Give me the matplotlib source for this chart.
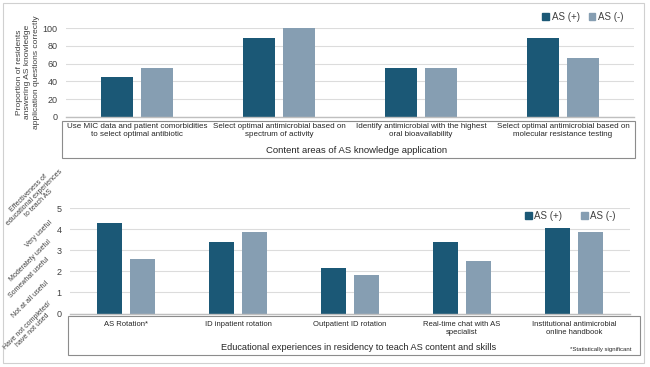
import matplotlib
matplotlib.use("Agg")
import matplotlib.pyplot as plt
from matplotlib.patches import Rectangle, Patch
from matplotlib.transforms import blended_transform_factory

plt.rcParams['font.family'] = ['Liberation Sans', 'DejaVu Sans']

# ---- data ----
top_categories = ["Use MIC data and patient comorbidities\nto select optimal antibiotic",
                  "Select optimal antimicrobial based on\nspectrum of activity",
                  "Identify antimicrobial with the highest\noral bioavailability",
                  "Select optimal antimicrobial based on\nmolecular resistance testing"]
top_as_pos = [44.4, 88.9, 55.6, 88.9]
top_as_neg = [55.6, 100.0, 55.6, 66.7]
top_yticks = [0, 20, 40, 60, 80, 100]

bot_categories = ["AS Rotation*", "ID inpatient rotation", "Outpatient ID rotation",
                  "Real-time chat with AS\nspecialist",
                  "Institutional antimicrobial\nonline handbook"]
bot_as_pos = [4.27, 3.39, 2.17, 3.39, 4.05]
bot_as_neg = [2.60, 3.85, 1.82, 2.50, 3.85]
bot_yticks = [0, 1, 2, 3, 4, 5]
scale_labels = ["Have not completed/\nhave not used", "Not at all useful",
                "Somewhat useful", "Moderately useful", "Very useful"]

series_names = ["AS (+)", "AS (-)"]
DARK = '#1b5876'
LIGHT = '#869eb2'
GRID = '#dcdcdc'
TXT = '#404040'

W, H = 650, 367
fig = plt.figure(figsize=(6.5, 3.67), dpi=100)

def fx(px):
    return px / W

def fy(py):
    return 1 - py / H

# figure border
fig.patches.append(Rectangle((fx(3), fy(363)), fx(644) - fx(3), fy(3) - fy(363),
                             transform=fig.transFigure, fill=False,
                             edgecolor='#d0d0d0', lw=0.8))

def style_axes(ax, ymax, yticks):
    ax.set_ylim(0, ymax)
    ax.set_yticks(yticks)
    ax.yaxis.grid(True, color=GRID, lw=0.8)
    ax.set_axisbelow(True)
    for s in ['left', 'right', 'top']:
        ax.spines[s].set_visible(False)
    ax.spines['bottom'].set_color('#bfbfbf')
    ax.spines['bottom'].set_linewidth(1.0)
    ax.tick_params(axis='y', length=0, labelsize=6.5, labelcolor=TXT, pad=6)
    ax.tick_params(axis='x', length=0, labelbottom=False)

# ---- top panel ----
ax1 = fig.add_axes([fx(66), fy(117), fx(634) - fx(66), fy(28) - fy(117)])
x1 = list(range(len(top_categories)))
ax1.bar([i - 0.14 for i in x1], top_as_pos, width=0.225, color=DARK)
ax1.bar([i + 0.14 for i in x1], top_as_neg, width=0.225, color=LIGHT)
ax1.set_xlim(-0.5, len(top_categories) - 0.5)
style_axes(ax1, 100, top_yticks)
fig.text(fx(28), fy(72), "Proportion of residents\nanswering AS knowledge\napplication questions correctly",
         rotation=90, ha='center', va='center', fontsize=6, color=TXT, linespacing=1.3)

fig.patches.append(Rectangle((fx(62), fy(158)), fx(635) - fx(62), fy(121) - fy(158),
                             transform=fig.transFigure, fill=False, edgecolor='#8c8c8c', lw=0.8))
tr1 = blended_transform_factory(ax1.transData, fig.transFigure)
for i, lab in enumerate(top_categories):
    ax1.text(i, fy(123), lab, transform=tr1, ha='center', va='top', fontsize=5.8,
             color='#262626', linespacing=1.3)
fig.text(fx(357), fy(150), "Content areas of AS knowledge application", ha='center',
         va='center', fontsize=6.8, color='#262626')
ax1.legend(handles=[Patch(color=DARK), Patch(color=LIGHT)], labels=series_names,
           loc='center', bbox_to_anchor=(fx(583), fy(17)), bbox_transform=fig.transFigure,
           ncol=2, frameon=False, fontsize=7, handlelength=0.7, handleheight=0.7,
           handletextpad=0.3, columnspacing=0.9, labelcolor=TXT)

# ---- bottom panel ----
ax2 = fig.add_axes([fx(70), fy(313.5), fx(630) - fx(70), fy(208) - fy(313.5)])
x2 = list(range(len(bot_categories)))
ax2.bar([i - 0.145 for i in x2], bot_as_pos, width=0.225, color=DARK)
ax2.bar([i + 0.145 for i in x2], bot_as_neg, width=0.225, color=LIGHT)
ax2.set_xlim(-0.5, len(bot_categories) - 0.5)
style_axes(ax2, 5, bot_yticks)

# rotated scale labels (anchor = right end, pixel coords)
label_anchor_px = [(53, 305), (48, 282), (48, 258), (50, 241), (51, 222)]
for (px, py), lab in zip(label_anchor_px, scale_labels):
    fig.text(fx(px), fy(py), lab, rotation=45, rotation_mode='anchor',
             ha='right', va='center', fontsize=5, color=TXT, multialignment='center',
             linespacing=1.0)
fig.text(fx(34), fy(198), "Effectiveness of\neducational experiences\nto teach AS",
         rotation=45, ha='center', va='center', fontsize=5, color=TXT,
         multialignment='center', linespacing=1.0)

fig.patches.append(Rectangle((fx(68), fy(355)), fx(640) - fx(68), fy(316) - fy(355),
                             transform=fig.transFigure, fill=False, edgecolor='#8c8c8c', lw=0.8))
trb = blended_transform_factory(ax2.transData, fig.transFigure)
for i, lab in enumerate(bot_categories):
    ax2.text(i, fy(321), lab, transform=trb, ha='center', va='top', fontsize=5.5,
             color='#262626', linespacing=1.2)
fig.text(fx(359), fy(347), "Educational experiences in residency to teach AS content and skills",
         ha='center', va='center', fontsize=6.6, color='#262626')
fig.text(fx(632), fy(349), "*Statistically significant", ha='right', va='center',
         fontsize=4.3, color='#262626')
ax2.legend(handles=[Patch(color=DARK), Patch(color=LIGHT)], labels=series_names,
           loc='center', bbox_to_anchor=(fx(570), fy(216)), bbox_transform=fig.transFigure,
           ncol=2, frameon=False, fontsize=7, handlelength=0.7, handleheight=0.7,
           handletextpad=0.2, columnspacing=2.0, labelcolor=TXT)

fig.savefig("out.png", dpi=100, facecolor='white')
